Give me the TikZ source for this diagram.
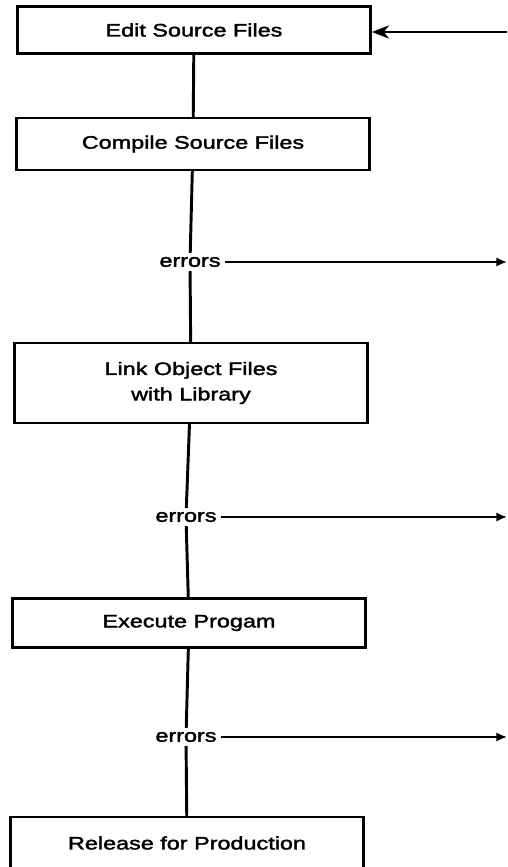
\documentclass[tikz,border=0pt]{standalone}
\usepackage{fontspec}
\setmainfont{Liberation Sans}[FakeStretch=1.3,FakeBold=2]
\usetikzlibrary{arrows.meta}

\begin{document}
\begin{tikzpicture}[x=0.75pt,y=-0.75pt,
	stepbox/.style={draw,line width=1.8pt,minimum width=265pt,align=center,font=\fontsize{13.5}{19}\selectfont},
	errlabel/.style={inner sep=3pt,font=\fontsize{13.5}{19}\selectfont},
	flow/.style={line width=2.2pt},
	errarrow/.style={line width=1.5pt,-{Latex[length=8pt,width=7pt]}}]
		\useasboundingbox (0,0) rectangle (507,867);
		\clip (0,0) rectangle (507,867);
		\node[stepbox,minimum height=35pt] (edit) at (194,30) {Edit Source Files};
		\node[stepbox,minimum height=39pt] (compile) at (193,144) {Compile Source Files};
		\node[stepbox,minimum height=60pt] (link) at (191,383) {Link Object Files\\with Library};
		\node[stepbox,minimum height=37pt] (execute) at (189,623) {Execute Progam};
		\node[stepbox,minimum height=39pt] (release) at (187,843) {Release for Production};
		
		\node[errlabel] (err1) at (190,262) {errors};
		\node[errlabel] (err2) at (186,517) {errors};
		\node[errlabel] (err3) at (186,737) {errors};
		
		\coordinate (back) at (507,32);
		\coordinate (out1) at (507,262);
		\coordinate (out2) at (507,517);
		\coordinate (out3) at (507,737);
		
		\draw[flow] (edit) -- (compile);
		\draw[flow] (compile) -- (err1);
		\draw[flow] (err1) -- (link);
		\draw[flow] (link) -- (err2);
		\draw[flow] (err2) -- (execute);
		\draw[flow] (execute) -- (err3);
		\draw[flow] (err3) -- (release);
		
		\draw[errarrow] (err1) -- (out1);
		\draw[errarrow] (err2) -- (out2);
		\draw[errarrow] (err3) -- (out3);
		\draw[line width=1.5pt,-{Stealth[length=13pt,width=10pt]}] (back) -- (edit.east |- back);
	\end{tikzpicture}
\end{document}
